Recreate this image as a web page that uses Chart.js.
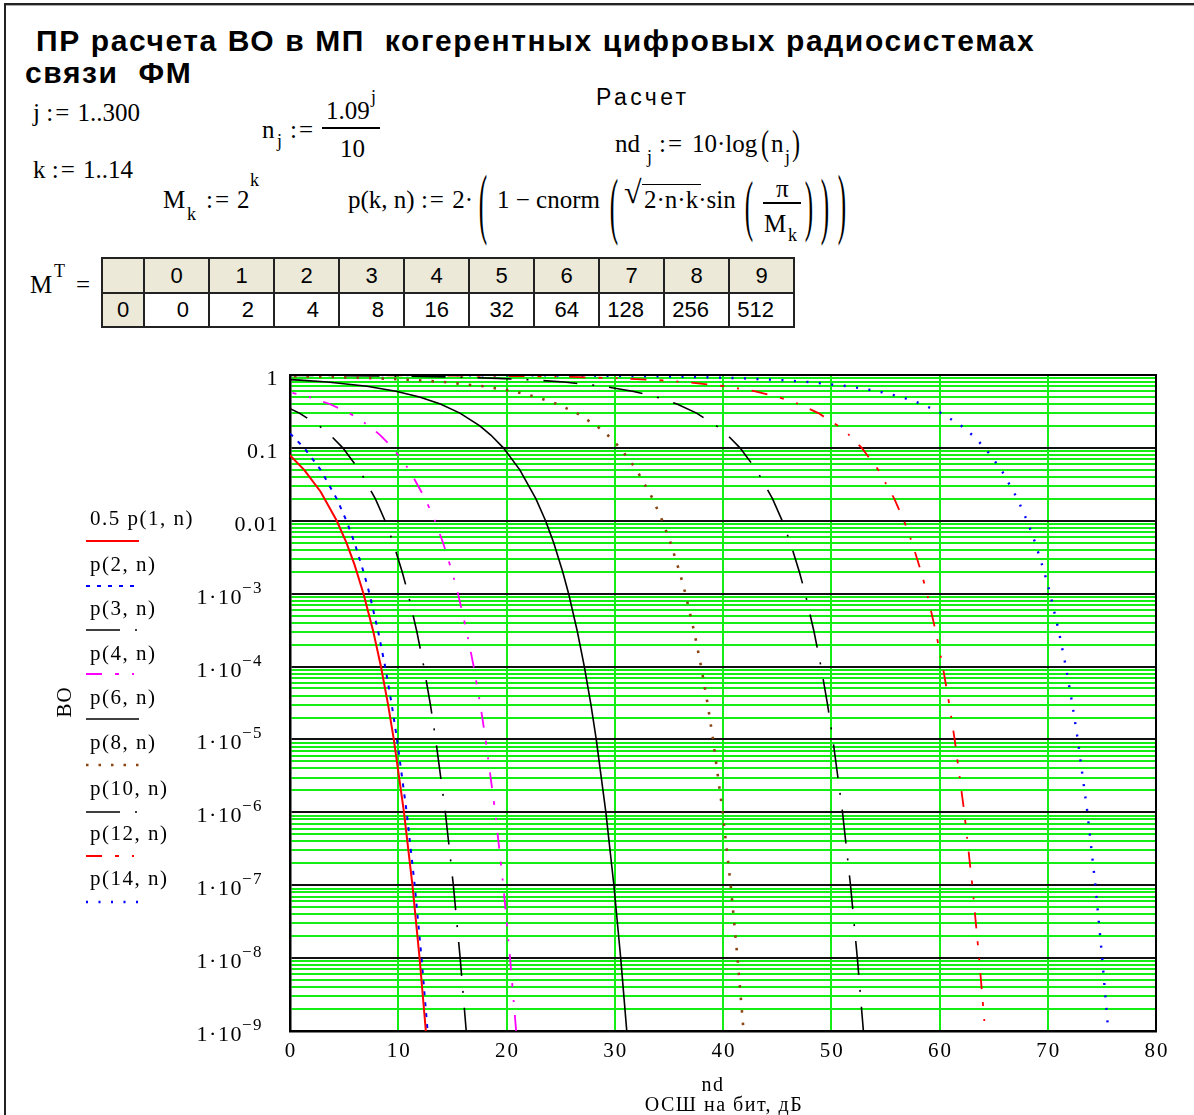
<!DOCTYPE html>
<html><head><meta charset="utf-8">
<script src="https://cdn.jsdelivr.net/npm/chart.js@4/dist/chart.umd.min.js"></script>
<style>
html,body{margin:0;padding:0;background:#fff;}
body{width:1194px;height:1115px;position:relative;overflow:hidden;font-family:"Liberation Serif","Times New Roman",serif;color:#000;}
.a{position:absolute;white-space:pre;line-height:1;}
.t{font-family:"Liberation Sans",Arial,sans-serif;font-weight:bold;font-size:30px;letter-spacing:1.6px;}
.m{font-size:25px;}
.s{font-size:18px;}
.op{letter-spacing:2px;}
.bp{position:absolute;font-size:24px;line-height:24px;transform-origin:50% 50%;}
#tbl{position:absolute;left:101px;top:257px;border-collapse:collapse;table-layout:fixed;font-family:"Liberation Sans",Arial,sans-serif;font-size:22px;}
#tbl td{border:2px solid #222;padding:0;height:33px;box-sizing:border-box;}
#tbl td.h{background:#ece9d8;text-align:center;}
#tbl td.d{background:#fff;text-align:right;padding-right:19px;}
#frame{position:absolute;left:4px;top:3px;width:1300px;height:1300px;border-left:2px solid #222;border-top:2px solid #222;box-shadow:inset 0 1px 0 #aaa;}
#c{position:absolute;left:0;top:340px;}
</style>
</head><body>
<div id="frame"></div>
<div class="a t" style="left:36px;top:26px;">ПР расчета ВО в МП  когерентных цифровых радиосистемах</div>
<div class="a t" style="left:25px;top:58px;">связи  ФМ</div>

<div class="a m" style="left:33px;top:100px;">j <span class="op">:=</span> 1..300</div>
<div class="a m" style="left:33px;top:157px;">k <span class="op">:=</span> 1..14</div>

<div class="a" style="left:596px;top:86px;font-family:'Liberation Sans',Arial,sans-serif;font-size:23px;letter-spacing:3.4px;">Расчет</div>

<!-- n_j := 1.09^j / 10 -->
<div class="a m" style="left:262px;top:117px;">n</div>
<div class="a s" style="left:277px;top:132px;">j</div>
<div class="a m op" style="left:290px;top:117px;">:=</div>
<div class="a m" style="left:326px;top:98px;">1.09</div>
<div class="a s" style="left:371px;top:88px;">j</div>
<div class="a" style="left:322px;top:127px;width:58px;height:1.5px;background:#000;"></div>
<div class="a m" style="left:340px;top:136px;">10</div>

<!-- nd_j := 10·log(n_j) -->
<div class="a m" style="left:615px;top:131px;">nd</div>
<div class="a s" style="left:647px;top:148px;">j</div>
<div class="a m op" style="left:659px;top:131px;">:=</div>
<div class="a m" style="left:692px;top:131px;">10·log</div>
<div class="bp" style="left:761px;top:131px;transform:scale(1,1.45);">(</div>
<div class="a m" style="left:771px;top:131px;">n</div>
<div class="a s" style="left:785px;top:148px;">j</div>
<div class="bp" style="left:792px;top:131px;transform:scale(1,1.45);">)</div>

<!-- M_k := 2^k -->
<div class="a m" style="left:163px;top:187px;">M</div>
<div class="a s" style="left:187px;top:205px;">k</div>
<div class="a m op" style="left:206px;top:187px;">:=</div>
<div class="a m" style="left:237px;top:187px;">2</div>
<div class="a s" style="left:250px;top:171px;">k</div>

<!-- p(k,n) -->
<div class="a m" style="left:348px;top:187px;">p(k, n) <span class="op">:=</span> 2·</div>
<div class="bp" style="left:479px;top:191px;transform:scale(1.05,3.3);">(</div>
<div class="a m" style="left:497px;top:187px;">1 − cnorm</div>
<div class="bp" style="left:610px;top:193px;transform:scale(1.05,3.1);">(</div>
<div class="a" style="left:624px;top:176px;font-size:32px;line-height:1;">√</div>
<div class="a" style="left:642px;top:184px;width:59px;height:1.2px;background:#000;"></div>
<div class="a m" style="left:644px;top:187px;">2·n·k·sin</div>
<div class="bp" style="left:745px;top:194px;transform:scale(1.05,2.8);">(</div>
<div class="a m" style="left:776px;top:176px;">π</div>
<div class="a" style="left:763px;top:202px;width:38px;height:1.5px;background:#000;"></div>
<div class="a m" style="left:764px;top:211px;">M</div>
<div class="a s" style="left:788px;top:226px;">k</div>
<div class="bp" style="left:805px;top:194px;transform:scale(1.05,2.8);">)</div>
<div class="bp" style="left:821px;top:193px;transform:scale(1.05,3.1);">)</div>
<div class="bp" style="left:838px;top:191px;transform:scale(1.05,3.3);">)</div>

<!-- M^T = -->
<div class="a m" style="left:30px;top:272px;">M</div>
<div class="a s" style="left:54px;top:262px;">T</div>
<div class="a m" style="left:76px;top:272px;">=</div>

<table id="tbl"></table>

<canvas id="c" width="1194" height="775"></canvas>

<script>
// ---------- table data ----------
const tableIndex = [0, 1, 2, 3, 4, 5, 6, 7, 8, 9];
const tableM = [0, 2, 4, 8, 16, 32, 64, 128, 256, 512];

// ---------- axis ticks ----------
const xTickValues = [0, 10, 20, 30, 40, 50, 60, 70, 80];
const yDecades = [1e-9, 1e-8, 1e-7, 1e-6, 1e-5, 1e-4, 1e-3, 0.01, 0.1, 1];
const yLabelBase = ['1·10', '1·10', '1·10', '1·10', '1·10', '1·10', '1·10', '0.01', '0.1', '1'];
const yLabelExp = ['−9', '−8', '−7', '−6', '−5', '−4', '−3', '', '', ''];
const yMantissas = [1, 2, 3, 4, 5, 6, 7, 8, 9];

// ---------- series (nd in dB, BO) ----------
const nd_p1 = [0, -9.63, -8.62, -4.51, -2.70, -0.86, 0.15, 1.31, 2.83, 4.32, 5.21, 5.96, 6.79, 7.70, 8.40, 9.06, 9.59, 10.53, 11.31, 11.97, 12.55, 13.06];
const bo_p1 = [0.5, 0.32, 0.3, 0.2, 0.15, 0.1, 0.075, 0.05, 0.025, 0.01, 5e-3, 2.5e-3, 1e-3, 3e-4, 1e-4, 3e-5, 1e-5, 1e-6, 1e-7, 1e-8, 1e-9, 1e-10];

const nd_p2 = [0, -9.63, -8.62, -6.43, -4.51, -2.70, -0.86, 0.15, 1.31, 2.83, 4.32, 5.21, 5.96, 6.79, 7.34, 8.15, 8.79, 9.40, 9.89, 10.78, 11.52, 12.15, 12.71, 13.20];
const bo_p2 = [1, 0.64, 0.6, 0.5, 0.4, 0.3, 0.2, 0.15, 0.1, 0.05, 0.02, 0.01, 5e-3, 2e-3, 1e-3, 3e-4, 1e-4, 3e-5, 1e-5, 1e-6, 1e-7, 1e-8, 1e-9, 1e-10];

const nd_p3 = [0, -9.63, -7.72, -5.05, -2.86, -0.94, 0.87, 2.71, 3.72, 4.88, 6.40, 7.89, 8.78, 9.53, 10.36, 10.91, 11.72, 12.36, 12.97, 13.46, 14.35, 15.09, 15.72, 16.28, 16.77];
const bo_p3 = [1, 0.757, 0.7, 0.6, 0.5, 0.4, 0.3, 0.2, 0.15, 0.1, 0.05, 0.02, 0.01, 5e-3, 2e-3, 1e-3, 3e-4, 1e-4, 3e-5, 1e-5, 1e-6, 1e-7, 1e-8, 1e-9, 1e-10];

const nd_p4 = [0, -9.63, -9.30, -6.76, -3.11, -0.44, 1.75, 3.67, 5.48, 7.32, 8.33, 9.49, 11.01, 12.50, 13.39, 14.14, 14.97, 15.52, 16.33, 16.97, 17.58, 18.07, 18.96, 19.70, 20.33, 20.89, 21.38];
const bo_p4 = [1, 0.855, 0.85, 0.8, 0.7, 0.6, 0.5, 0.4, 0.3, 0.2, 0.15, 0.1, 0.05, 0.02, 0.01, 5e-3, 2e-3, 1e-3, 3e-4, 1e-4, 3e-5, 1e-5, 1e-6, 1e-7, 1e-8, 1e-9, 1e-10];

const nd_p6 = [0, -9.63, -7.08, -2.63, 0.92, 3.46, 7.11, 9.78, 11.97, 13.89, 15.70, 17.54, 18.55, 19.71, 21.23, 22.72, 23.61, 24.36, 25.19, 25.74, 26.55, 27.19, 27.80, 28.29, 29.18, 29.92, 30.55, 31.11, 31.60];
const bo_p6 = [1, 0.955, 0.94, 0.9, 0.85, 0.8, 0.7, 0.6, 0.5, 0.4, 0.3, 0.2, 0.15, 0.1, 0.05, 0.02, 0.01, 5e-3, 2e-3, 1e-3, 3e-4, 1e-4, 3e-5, 1e-5, 1e-6, 1e-7, 1e-8, 1e-9, 1e-10];

const nd_p8 = [0, -9.63, -5.84, 0.19, 3.71, 8.16, 11.71, 14.25, 17.90, 20.57, 22.76, 24.68, 26.49, 28.33, 29.34, 30.50, 32.02, 33.51, 34.40, 35.15, 35.98, 36.53, 37.34, 37.98, 38.59, 39.08, 39.97, 40.71, 41.34, 41.90, 42.39];
const bo_p8 = [1, 0.987, 0.98, 0.96, 0.94, 0.9, 0.85, 0.8, 0.7, 0.6, 0.5, 0.4, 0.3, 0.2, 0.15, 0.1, 0.05, 0.02, 0.01, 5e-3, 2e-3, 1e-3, 3e-4, 1e-4, 3e-5, 1e-5, 1e-6, 1e-7, 1e-8, 1e-9, 1e-10];

const nd_p10 = [0, -9.63, -6.81, -0.79, 5.23, 11.26, 14.78, 19.23, 22.78, 25.32, 28.97, 31.64, 33.83, 35.75, 37.56, 39.40, 40.41, 41.57, 43.09, 44.58, 45.47, 46.22, 47.05, 47.60, 48.41, 49.05, 49.66, 50.15, 51.04, 51.78, 52.41, 52.97, 53.46];
const bo_p10 = [1, 0.996, 0.995, 0.99, 0.98, 0.96, 0.94, 0.9, 0.85, 0.8, 0.7, 0.6, 0.5, 0.4, 0.3, 0.2, 0.15, 0.1, 0.05, 0.02, 0.01, 5e-3, 2e-3, 1e-3, 3e-4, 1e-4, 3e-5, 1e-5, 1e-6, 1e-7, 1e-8, 1e-9, 1e-10];

const nd_p12 = [0, -9.63, 4.44, 10.46, 16.48, 22.51, 26.03, 30.48, 34.03, 36.57, 40.22, 42.89, 45.08, 47.00, 48.81, 50.65, 51.66, 52.82, 54.34, 55.83, 56.72, 57.47, 58.30, 58.85, 59.66, 60.30, 60.91, 61.40, 62.29, 63.03, 63.66, 64.22, 64.71];
const bo_p12 = [1, 0.999, 0.995, 0.99, 0.98, 0.96, 0.94, 0.9, 0.85, 0.8, 0.7, 0.6, 0.5, 0.4, 0.3, 0.2, 0.15, 0.1, 0.05, 0.02, 0.01, 5e-3, 2e-3, 1e-3, 3e-4, 1e-4, 3e-5, 1e-5, 1e-6, 1e-7, 1e-8, 1e-9, 1e-10];

const nd_p14 = [0, -9.63, 1.83, 15.81, 21.83, 27.85, 33.88, 37.40, 41.85, 45.40, 47.94, 51.59, 54.26, 56.45, 58.37, 60.18, 62.02, 63.03, 64.19, 65.71, 67.20, 68.09, 68.84, 69.67, 70.22, 71.03, 71.67, 72.28, 72.77, 73.66, 74.40, 75.03, 75.59, 76.08];
const bo_p14 = [1, 0.9997, 0.999, 0.995, 0.99, 0.98, 0.96, 0.94, 0.9, 0.85, 0.8, 0.7, 0.6, 0.5, 0.4, 0.3, 0.2, 0.15, 0.1, 0.05, 0.02, 0.01, 5e-3, 2e-3, 1e-3, 3e-4, 1e-4, 3e-5, 1e-5, 1e-6, 1e-7, 1e-8, 1e-9, 1e-10];

const seriesLabels = ['0.5 p(1, n)', 'p(2, n)', 'p(3, n)', 'p(4, n)', 'p(6, n)', 'p(8, n)', 'p(10, n)', 'p(12, n)', 'p(14, n)'];

// ---------- build table ----------
(function(){
  const t = document.getElementById('tbl');
  const cg = document.createElement('colgroup');
  const c0 = document.createElement('col'); c0.style.width = '42px'; cg.appendChild(c0);
  tableIndex.forEach(() => { const c = document.createElement('col'); c.style.width = '65px'; cg.appendChild(c); });
  t.appendChild(cg);
  const r1 = t.insertRow(); r1.style.height = '35px';
  const e = r1.insertCell(); e.className = 'h';
  tableIndex.forEach(i => { const c = r1.insertCell(); c.className = 'h'; c.textContent = i; });
  const r2 = t.insertRow(); r2.style.height = '34px';
  const h = r2.insertCell(); h.className = 'h'; h.textContent = '0';
  tableM.forEach(v => { const c = r2.insertCell(); c.className = 'd'; c.textContent = v; });
})();

// ---------- chart ----------
const OFFY = 340;
const GREEN = '#14ee14';
const pts = (xs, ys) => xs.map((x, i) => ({x: x, y: ys[i]}));
const styles = [
  {c: '#ff0000', w: 2, d: []},
  {c: '#0000ff', w: 2, d: [4, 7]},
  {c: '#000000', w: 1.6, d: [34, 15, 2, 15]},
  {c: '#ff00ff', w: 1.8, d: [16, 13, 4, 13, 2, 13]},
  {c: '#000000', w: 1.6, d: []},
  {c: '#8b4513', w: 2.6, d: [2.5, 10]},
  {c: '#000000', w: 1.6, d: [34, 15, 2, 15]},
  {c: '#ff0000', w: 1.8, d: [16, 13, 4, 13, 2, 13]},
  {c: '#0000ff', w: 2.4, d: [2, 10.5]}
];
const ndSets = [nd_p1, nd_p2, nd_p3, nd_p4, nd_p6, nd_p8, nd_p10, nd_p12, nd_p14];
const boSets = [bo_p1, bo_p2, bo_p3, bo_p4, bo_p6, bo_p8, bo_p10, bo_p12, bo_p14];
const datasets = seriesLabels.map((lab, i) => ({
  label: lab,
  data: pts(ndSets[i], boSets[i]),
  borderColor: styles[i].c,
  borderWidth: styles[i].w,
  borderDash: styles[i].d,
  pointRadius: 0,
  tension: 0,
  fill: false,
  showLine: true
}));

const yTickValues = [];
yDecades.forEach(d => { yMantissas.forEach(m => { const v = +(m * d).toPrecision(3); if (v <= 1) yTickValues.push(v); }); });
const isDecade = v => Math.abs(Math.log10(v) - Math.round(Math.log10(v))) < 1e-6;

const mcadPlugin = {
  id: 'mcad',
  afterDraw(chart) {
    const ctx = chart.ctx, a = chart.chartArea, xs = chart.scales.x, ys = chart.scales.y;
    ctx.save();
    // top & right frame
    ctx.strokeStyle = '#000'; ctx.lineWidth = 2; ctx.setLineDash([]);
    ctx.beginPath(); ctx.moveTo(a.left, a.top); ctx.lineTo(a.right, a.top); ctx.lineTo(a.right, a.bottom); ctx.stroke();
    ctx.fillStyle = '#000';
    ctx.textBaseline = 'alphabetic';
    // y tick labels
    yDecades.forEach((v, i) => {
      const py = ys.getPixelForValue(v) + 10;
      const base = yLabelBase[i], ex = yLabelExp[i];
      ctx.letterSpacing = '1.5px';
      ctx.textAlign = 'left';
      if (ex) {
        ctx.font = '17px "Liberation Serif"';
        const wE = ctx.measureText(ex).width;
        ctx.fillText(ex, 263 - wE, py - 11);
        ctx.font = '22px "Liberation Serif"';
        const wB = ctx.measureText(base).width;
        ctx.fillText(base, 263 - wE - wB + 1, py);
      } else {
        ctx.font = '22px "Liberation Serif"';
        const w = ctx.measureText(base).width;
        ctx.fillText(base, 279 - w, py);
      }
    });
    // x tick labels
    ctx.font = '21px "Liberation Serif"';
    ctx.letterSpacing = '2px';
    xTickValues.forEach(v => {
      const px = xs.getPixelForValue(v);
      const w = ctx.measureText(String(v)).width - 2;
      ctx.textAlign = 'left';
      ctx.fillText(String(v), px - w / 2, 1057 - OFFY);
    });
    // x axis title
    ctx.font = '20px "Liberation Serif"';
    ctx.letterSpacing = '1.5px';
    let w = ctx.measureText('nd').width;
    ctx.fillText('nd', 713 - w / 2, 1091 - OFFY);
    w = ctx.measureText('ОСШ на бит, дБ').width;
    ctx.fillText('ОСШ на бит, дБ', 724 - w / 2, 1111 - OFFY);
    // y axis title
    ctx.save();
    ctx.translate(64, 702 - OFFY);
    ctx.rotate(-Math.PI / 2);
    ctx.font = '21px "Liberation Serif"';
    ctx.letterSpacing = '1px';
    w = ctx.measureText('ВО').width;
    ctx.fillText('ВО', -w / 2, 7);
    ctx.restore();
    // legend
    const textBase = [525, 571, 615, 660, 704, 749, 795, 840, 885];
    const lineY = [541, 586, 630, 674, 719, 765, 812, 856, 902];
    chart.data.datasets.forEach((ds, i) => {
      ctx.font = '21px "Liberation Serif"';
      ctx.letterSpacing = '1.5px';
      ctx.fillStyle = '#000';
      ctx.fillText(ds.label, 90, textBase[i] - OFFY);
      ctx.strokeStyle = ds.borderColor;
      ctx.lineWidth = ds.borderWidth;
      ctx.setLineDash(ds.borderDash);
      ctx.beginPath();
      ctx.moveTo(86, lineY[i] - OFFY);
      ctx.lineTo(139, lineY[i] - OFFY);
      ctx.stroke();
    });
    ctx.restore();
  }
};

new Chart(document.getElementById('c'), {
  type: 'scatter',
  data: {datasets: datasets},
  options: {
    responsive: false,
    animation: false,
    layout: {padding: {left: 0, right: 38, top: 35, bottom: 0}},
    plugins: {legend: {display: false}, tooltip: {enabled: false}, title: {display: false}},
    scales: {
      x: {
        type: 'linear', min: 0, max: 80,
        afterBuildTicks: s => { s.ticks = xTickValues.map(v => ({value: v})); },
        afterFit: s => { s.height = 84; },
        ticks: {display: false},
        grid: {color: GREEN, lineWidth: 2, drawTicks: false},
        border: {color: '#000', width: 2.5}
      },
      y: {
        type: 'logarithmic', min: 1e-9, max: 1,
        afterBuildTicks: s => { s.ticks = yTickValues.map(v => ({value: v})); },
        afterFit: s => { s.width = 290; },
        ticks: {display: false},
        grid: {
          color: c => (c.tick && isDecade(c.tick.value)) ? '#111' : GREEN,
          lineWidth: 2, drawTicks: false
        },
        border: {color: '#000', width: 2.5}
      }
    }
  },
  plugins: [mcadPlugin]
});
</script>
</body></html>
